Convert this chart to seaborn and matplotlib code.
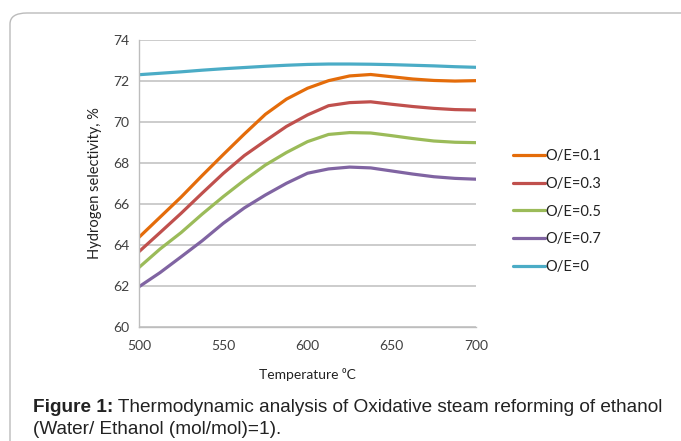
import numpy as np
import pandas as pd
import matplotlib
matplotlib.use("Agg")
import matplotlib.pyplot as plt
from matplotlib.patches import FancyBboxPatch
import seaborn as sns

temperature = [500, 512.5, 525, 537.5, 550, 562.5, 575, 587.5, 600,
               612.5, 625, 637.5, 650, 662.5, 675, 687.5, 700]
oe_01 = [64.37, 65.35, 66.33, 67.38, 68.40, 69.40, 70.36, 71.10, 71.63,
         72.00, 72.23, 72.30, 72.19, 72.08, 72.01, 71.98, 72.00]
oe_03 = [63.67, 64.60, 65.54, 66.52, 67.48, 68.35, 69.07, 69.77, 70.33,
         70.78, 70.93, 70.97, 70.85, 70.74, 70.65, 70.59, 70.57]
oe_05 = [62.90, 63.80, 64.60, 65.50, 66.35, 67.15, 67.89, 68.50, 69.03,
         69.38, 69.47, 69.45, 69.32, 69.18, 69.06, 69.00, 68.98]
oe_07 = [61.96, 62.65, 63.42, 64.20, 65.05, 65.80, 66.43, 67.00, 67.49,
         67.70, 67.79, 67.75, 67.60, 67.45, 67.32, 67.24, 67.20]
oe_00 = [72.29, 72.36, 72.43, 72.51, 72.58, 72.64, 72.70, 72.75, 72.79,
         72.81, 72.81, 72.80, 72.78, 72.75, 72.72, 72.68, 72.65]

series_names = ["O/E=0.1", "O/E=0.3", "O/E=0.5", "O/E=0.7", "O/E=0"]
series_values = [oe_01, oe_03, oe_05, oe_07, oe_00]
colors = ["#E46C0A", "#C0504D", "#9BBB59", "#8064A2", "#4BACC6"]

yticks = [60, 62, 64, 66, 68, 70, 72, 74]
xticks = [500, 550, 600, 650, 700]

caption_bold = "Figure 1:"
caption_rest = " Thermodynamic analysis of Oxidative steam reforming of ethanol"
caption_line2 = "(Water/ Ethanol (mol/mol)=1)."

df = pd.DataFrame({
    "T": np.tile(temperature, len(series_names)),
    "v": np.concatenate(series_values),
    "s": np.repeat(series_names, len(temperature)),
})

sns.set_theme(style="white")
plt.rcParams["font.family"] = ["Lato", "DejaVu Sans"]

fig = plt.figure(figsize=(6.81, 4.41), dpi=100)
W, H = 681, 441
ax = fig.add_axes([139 / W, 1 - 327 / H, (476 - 139) / W, (327 - 39.6) / H])

sns.lineplot(data=df, x="T", y="v", hue="s", hue_order=series_names,
             palette=colors, linewidth=2.3, ax=ax, legend=False)

ax.set_xlim(500, 700)
ax.set_ylim(60, 74)
ax.set_xticks(xticks)
ax.set_yticks(yticks)
ax.yaxis.grid(True, color="#c4c4c4", linewidth=1.2)
ax.xaxis.grid(False)
ax.set_axisbelow(True)
for s in ["top", "right"]:
    ax.spines[s].set_visible(False)
for s in ["left", "bottom"]:
    ax.spines[s].set_color("#bdbdbd")
    ax.spines[s].set_linewidth(1.0)
ax.tick_params(axis="both", length=0, labelsize=10, colors="#404040")
ax.tick_params(axis="x", pad=9)
ax.tick_params(axis="y", pad=7)
ax.set_xlabel("Temperature ⁰C", fontsize=10, color="#222222", labelpad=12)
ax.set_ylabel("Hydrogen selectivity, %", fontsize=10.5, color="#222222", labelpad=8)

# legend
handles = [plt.Line2D([], [], color=c, linewidth=2.3) for c in colors]
leg = fig.legend(handles, series_names, loc="upper left",
                 bbox_to_anchor=(507 / W, 1 - 143 / H), frameon=False,
                 fontsize=10.5, handlelength=2.2, handletextpad=0.05,
                 labelspacing=0.95, borderaxespad=0)
for t in leg.get_texts():
    t.set_color("#222222")

# outer rounded frame
frame = FancyBboxPatch((10 / W, -0.2), 1.2, 1.2 - 13 / H,
                       boxstyle="round,pad=0,rounding_size=0.025",
                       transform=fig.transFigure, fill=False,
                       edgecolor="#bbbbbb", linewidth=1.0, clip_on=False)
fig.patches.append(frame)

# caption (fit the first line to the reference width)
cap_family = ["Liberation Sans Narrow", "Liberation Sans", "DejaVu Sans"]
renderer = fig.canvas.get_renderer()
probe_size = 12.0
tb = fig.text(0, 0, caption_bold, fontsize=probe_size, fontweight="bold", family=cap_family)
tr = fig.text(0, 0, caption_rest, fontsize=probe_size, family=cap_family)
wb = tb.get_window_extent(renderer).width
wr = tr.get_window_extent(renderer).width
tb.remove(); tr.remove()
size = probe_size * (667 - 33) / (wb + wr)
x0 = 33 / W
t1 = fig.text(x0, 1 - 408 / H, caption_bold, fontsize=size, fontweight="bold",
              family=cap_family, color="#222222", va="center")
wb2 = t1.get_window_extent(renderer).width
fig.text(x0 + wb2 / W, 1 - 408 / H, caption_rest, fontsize=size,
         family=cap_family, color="#222222", va="center")
fig.text(x0, 1 - 430 / H, caption_line2, fontsize=size,
         family=cap_family, color="#222222", va="center")

fig.savefig("out.png", dpi=100)
